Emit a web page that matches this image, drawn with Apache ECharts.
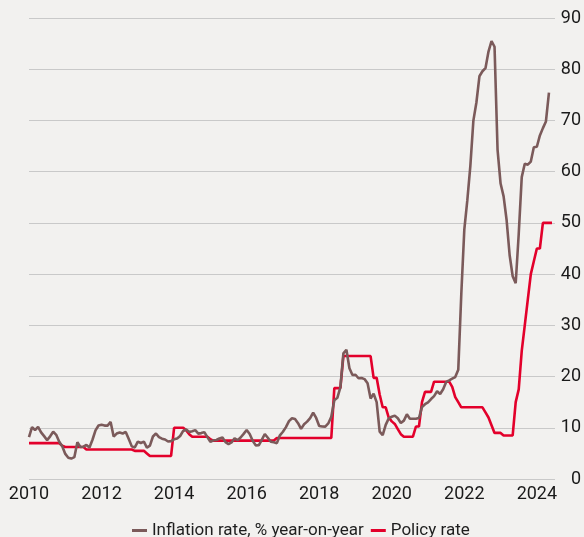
<!DOCTYPE html>
<html>
<head>
<meta charset="utf-8">
<script src="https://cdn.jsdelivr.net/npm/echarts@6/dist/echarts.min.js"></script>
<style>
  html, body { margin: 0; padding: 0; background: #f2f1ef; }
  #chart { width: 584px; height: 537px; }
</style>
</head>
<body>
<div id="chart"></div>
<script>
// Monthly series, first value = January 2010
const startYear = 2010;

// Consumer price inflation, % year-on-year (Jan 2010 - May 2024)
const inflation = [
  8.19, 10.13, 9.56, 10.19, 9.10, 8.37, 7.58, 8.33, 9.24, 8.62, 7.29, 6.40,   // 2010
  4.90, 4.16, 3.99, 4.26, 7.17, 6.24, 6.31, 6.65, 6.15, 7.66, 9.48, 10.45,    // 2011
  10.61, 10.43, 10.43, 11.14, 8.28, 8.87, 9.07, 8.88, 9.19, 7.80, 6.37, 6.16, // 2012
  7.31, 7.03, 7.29, 6.13, 6.51, 8.30, 8.88, 8.17, 7.88, 7.71, 7.32, 7.40,     // 2013
  7.75, 7.89, 8.39, 9.38, 9.66, 9.16, 9.32, 9.54, 8.86, 8.96, 9.15, 8.17,     // 2014
  7.24, 7.55, 7.61, 7.91, 8.09, 7.20, 6.81, 7.14, 7.95, 7.58, 8.10, 8.81,     // 2015
  9.58, 8.78, 7.46, 6.57, 6.58, 7.64, 8.79, 8.05, 7.28, 7.16, 7.00, 8.53,     // 2016
  9.22, 10.13, 11.29, 11.87, 11.72, 10.90, 9.79, 10.68, 11.20, 11.90, 12.98, 11.92, // 2017
  10.35, 10.26, 10.23, 10.85, 12.15, 15.39, 15.85, 17.90, 24.52, 25.24, 21.62, 20.30, // 2018
  20.35, 19.67, 19.71, 19.50, 18.71, 15.72, 16.65, 15.01, 9.26, 8.55, 10.56, 11.84,   // 2019
  12.15, 12.37, 11.86, 10.94, 11.39, 12.62, 11.76, 11.77, 11.75, 11.89, 14.03, 14.60, // 2020
  14.97, 15.61, 16.19, 17.14, 16.59, 17.53, 18.95, 19.25, 19.58, 19.89, 21.31, 36.08, // 2021
  48.69, 54.44, 61.14, 69.97, 73.50, 78.62, 79.60, 80.21, 83.45, 85.51, 84.39, 64.27, // 2022
  57.68, 55.18, 50.51, 43.68, 39.59, 38.21, 47.83, 58.94, 61.53, 61.36, 61.98, 64.77, // 2023
  64.86, 67.07, 68.50, 69.80, 75.45                                                     // 2024
];

// Central bank policy rate, % (Jan 2010 - Jun 2024)
const policyRate = [
  7, 7, 7, 7, 7, 7, 7, 7, 7, 7, 7, 6.5,                                   // 2010
  6.25, 6.25, 6.25, 6.25, 6.25, 6.25, 6.25, 5.75, 5.75, 5.75, 5.75, 5.75, // 2011
  5.75, 5.75, 5.75, 5.75, 5.75, 5.75, 5.75, 5.75, 5.75, 5.75, 5.75, 5.5,  // 2012
  5.5, 5.5, 5.5, 5.0, 4.5, 4.5, 4.5, 4.5, 4.5, 4.5, 4.5, 4.5,             // 2013
  10, 10, 10, 10, 9.5, 8.75, 8.25, 8.25, 8.25, 8.25, 8.25, 8.25,          // 2014
  7.75, 7.5, 7.5, 7.5, 7.5, 7.5, 7.5, 7.5, 7.5, 7.5, 7.5, 7.5,            // 2015
  7.5, 7.5, 7.5, 7.5, 7.5, 7.5, 7.5, 7.5, 7.5, 7.5, 8, 8,                 // 2016
  8, 8, 8, 8, 8, 8, 8, 8, 8, 8, 8, 8,                                     // 2017
  8, 8, 8, 8, 8, 17.75, 17.75, 17.75, 24, 24, 24, 24,                     // 2018
  24, 24, 24, 24, 24, 24, 19.75, 19.75, 16.5, 14, 14, 12,                 // 2019
  11.25, 10.75, 9.75, 8.75, 8.25, 8.25, 8.25, 8.25, 10.25, 10.25, 15, 17, // 2020
  17, 17, 19, 19, 19, 19, 19, 19, 18, 16, 15, 14,                         // 2021
  14, 14, 14, 14, 14, 14, 14, 13, 12, 10.5, 9, 9,                         // 2022
  9, 8.5, 8.5, 8.5, 8.5, 15, 17.5, 25, 30, 35, 40, 42.5,                  // 2023
  45, 45, 50, 50, 50, 50                                                  // 2024
];

const yearTicks = [2010, 2012, 2014, 2016, 2018, 2020, 2022, 2024];
const seriesNames = ['Inflation rate, % year-on-year', 'Policy rate'];

const toPoints = arr => arr.map((v, i) => [startYear + i / 12, v]);

const FONT = 'Roboto, "Open Sans", sans-serif';
const chart = echarts.init(document.getElementById('chart'), null, { renderer: 'canvas' });

chart.setOption({
  backgroundColor: '#f2f1ef',
  animation: false,
  graphic: [{
    // headline sits above the top edge; only its lowest strokes reach the canvas
    type: 'text',
    x: 18,
    y: 0.3,
    style: {
      text: 'Turkey: inflation and policy rate',
      font: 'bold 18px ' + FONT,
      fill: '#111',
      verticalAlign: 'bottom'
    }
  }],
  grid: { left: 29, right: 28, top: 18, bottom: 58, containLabel: false },
  legend: {
    top: 517,
    left: 127,
    icon: 'rect',
    itemWidth: 15,
    itemHeight: 3,
    itemGap: 7,
    textStyle: { fontFamily: FONT, fontSize: 17, color: '#1e1e1e' },
    data: seriesNames
  },
  xAxis: {
    type: 'value',
    min: 2010,
    max: 2024.5,
    interval: 2,
    axisLine: { show: false },
    axisTick: { show: false },
    splitLine: { show: false },
    axisLabel: {
      margin: 6,
      fontFamily: FONT,
      fontSize: 18,
      color: '#1a1a1a',
      showMaxLabel: false,
      formatter: v => (yearTicks.includes(Math.round(v * 1000) / 1000) ? String(v) : '')
    }
  },
  yAxis: {
    type: 'value',
    position: 'right',
    min: 0,
    max: 90,
    interval: 10,
    axisLine: { show: false },
    axisTick: { show: false },
    splitLine: { lineStyle: { color: '#c9c9c9', width: 1 } },
    axisLabel: {
      margin: 26,
      align: 'right',
      fontFamily: FONT,
      fontSize: 18,
      color: '#1a1a1a'
    }
  },
  series: [
    {
      name: seriesNames[0],
      type: 'line',
      data: toPoints(inflation),
      showSymbol: false,
      z: 3,
      lineStyle: { color: '#7b5a5a', width: 2.6 },
      itemStyle: { color: '#7b5a5a' }
    },
    {
      name: seriesNames[1],
      type: 'line',
      data: toPoints(policyRate),
      showSymbol: false,
      z: 2,
      lineStyle: { color: '#e3002b', width: 2.6 },
      itemStyle: { color: '#e3002b' }
    }
  ]
});
</script>
</body>
</html>
